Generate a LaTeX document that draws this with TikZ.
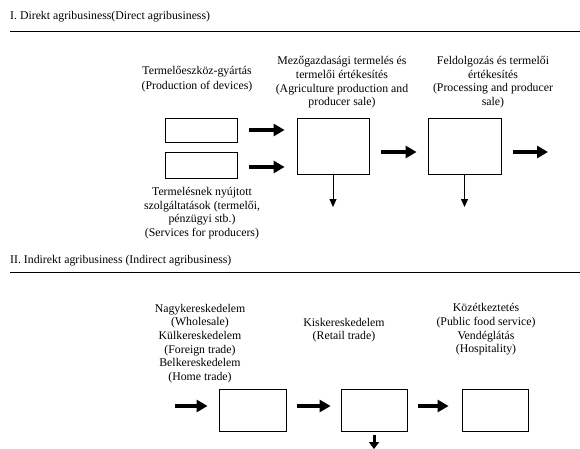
\documentclass[tikz,border=0pt]{standalone}
\usepackage{fontspec}
\setmainfont{Liberation Serif}
\usetikzlibrary{calc, arrows.meta}

\tikzset{
    txt/.style={inner sep=0pt, align=center, font=\fontsize{11.8}{13.6}\selectfont},
    ttl/.style={inner sep=0pt, anchor=west, font=\fontsize{11.8}{13.6}\selectfont},
    box/.style={draw, line width=0.8pt, inner sep=0pt},
    fat/.style={line width=3.6pt, -{Triangle[length=11pt,width=12pt]}},
    thin/.style={line width=0.8pt, -{Triangle[length=8pt,width=7pt]}}
}

\begin{document}
\begin{tikzpicture}[x=1pt, y=-1pt]
        \useasboundingbox (0,0) rectangle (580,449);

        \node[ttl] (T1) at (10,17) {I. Direkt agribusiness(Direct agribusiness)};
        \draw[line width=1pt] (10,32) -- (580,32);

        \node[box, minimum width=72pt, minimum height=24pt] (sA) at (201,130) {};
        \node[box, minimum width=72pt, minimum height=26pt] (sB) at (201,165) {};
        \node[box, minimum width=72pt, minimum height=56pt] (bA) at (333,146) {};
        \node[box, minimum width=73pt, minimum height=56pt] (bB) at (464.5,146) {};

        \coordinate (outA) at (560,152);
        \coordinate (dA) at (333,207);
        \coordinate (dB) at (464.5,207);

        \node[txt] (tDev) at (197,79.5) {Termelőeszköz-gyártás\\[1.4pt](Production of devices)};
        \node[txt] (tAgr) at (342,82.5) {Mezőgazdasági termelés és\\termelői értékesítés\\(Agriculture production and\\producer sale)};
        \node[txt] (tPro) at (493,82) {Feldolgozás és termelői\\értékesítés\\(Processing and producer\\sale)};
        \node[txt] (tSer) at (202,213) {Termelésnek nyújtott\\szolgáltatások (termelői,\\pénzügyi stb.)\\(Services for producers)};

        \draw[fat, shorten <=12pt, shorten >=12pt] (sA.east) -- (sA.east -| bA.west);
        \draw[fat, shorten <=12pt, shorten >=12pt] ([yshift=-2pt]sB.east) -- ([yshift=-2pt]sB.east -| bA.west);
        \draw[fat, shorten <=12pt, shorten >=11pt] ([yshift=-6pt]bA.east) -- ([yshift=-6pt]bB.west);
        \draw[fat, shorten <=12pt, shorten >=12pt] ([yshift=-6pt]bB.east) -- (outA);
        \draw[thin] (bA.south) -- (dA);
        \draw[thin] (bB.south) -- (dB);

        \node[ttl] (T2) at (10,261) {II. Indirekt agribusiness (Indirect agribusiness)};
        \draw[line width=1pt] (10,272) -- (580,272);

        \node[box, minimum width=67pt, minimum height=42pt] (cA) at (252.5,410) {};
        \node[box, minimum width=66pt, minimum height=42pt] (cB) at (374,410) {};
        \node[box, minimum width=66pt, minimum height=42pt] (cC) at (495,410) {};

        \coordinate (inC) at (163,406);
        \coordinate (dC) at (374,449);

        \node[txt] (tWho) at (200,343.5) {Nagykereskedelem\\(Wholesale)\\Külkereskedelem\\(Foreign trade)\\Belkereskedelem\\(Home trade)};
        \node[txt] (tRet) at (344,330) {Kiskereskedelem\\(Retail trade)};
        \node[txt] (tFoo) at (486,329.5) {Közétkeztetés\\(Public food service)\\Vendéglátás\\(Hospitality)};

        \draw[fat, shorten <=12pt, shorten >=11pt] (inC) -- ([yshift=4pt]cA.west);
        \draw[fat, shorten <=11pt, shorten >=10pt] ([yshift=4pt]cA.east) -- ([yshift=4pt]cB.west);
        \draw[fat, shorten <=11pt, shorten >=13pt] ([yshift=4pt]cB.east) -- ([yshift=4pt]cC.west);
        \draw[line width=3pt, -{Triangle[length=7pt,width=10pt]}, shorten <=4pt] (cB.south) -- (dC);
    \end{tikzpicture}
\end{document}
